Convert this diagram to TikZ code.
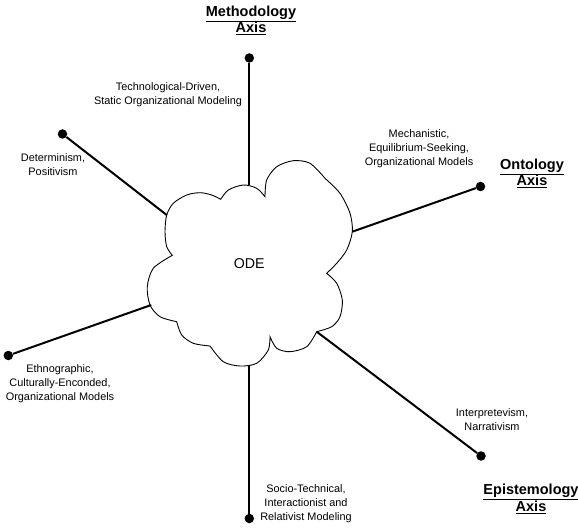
\documentclass[tikz,border=0pt]{standalone}
\usepackage{fontspec}
\setmainfont{Liberation Sans}
\begin{document}
\begin{tikzpicture}[x=1pt,y=-1pt,
  axisline/.style={line width=2pt},
  enddot/.style={circle,fill=black,inner sep=0pt,minimum size=9.5pt},
  pole/.style={font=\fontsize{10.9}{14}\selectfont,align=center,inner sep=0pt},
  axistitle/.style={font=\fontsize{14.5}{16.5}\selectfont\bfseries,align=center,inner sep=0pt},
  cloudline/.style={line width=0.9pt,fill=white}]

\useasboundingbox (0,0) rectangle (578,529);

% the ODE cloud, one smooth bump between each pair of notches
\draw[cloudline]
  plot[smooth] coordinates {(172.3,255.3) (166.7,246.7) (165,231.7) (166.7,215) (173.3,203.3) (186.7,195) (200,192.7) (211.7,195) (220.7,199.3)}
  -- plot[smooth] coordinates {(220.7,199.3) (228.3,190) (243.3,185) (256.7,188.3) (265,196.7)}
  -- plot[smooth] coordinates {(265,196.7) (266.7,180) (276.7,166.7) (293.3,160.7) (310,163.3) (325,178.3)}
  -- plot[smooth] coordinates {(325,178.3) (340,193.3) (350,213.3) (352.3,231.7) (346.7,250) (336.7,263.3) (326.7,273.3)}
  -- plot[smooth] coordinates {(326.7,273.3) (336.7,283.3) (342.3,300) (340,316.7) (331.7,326.7) (316.7,331.7)}
  -- plot[smooth] coordinates {(316.7,331.7) (306.7,346.7) (290,351.7) (276.7,348.3) (270,336.7)}
  -- plot[smooth] coordinates {(270,336.7) (268.3,350) (256.7,363.3) (240,366) (223.3,361.7) (210,346)}
  -- plot[smooth] coordinates {(210,346) (193.3,343.3) (181.7,335) (176.7,321.7)}
  -- plot[smooth] coordinates {(176.7,321.7) (160,316.7) (150,305) (147.3,286.7) (153.3,268.3) (172.3,255.3)}
  -- cycle;
\node[font=\fontsize{14.2}{16}\selectfont,inner sep=0pt] (ode) at (249.3,263.3) {ODE};

% points where the axes leave the cloud
\coordinate (cTop) at (249.3,185.5);
\coordinate (cTopLeft) at (166.7,215);
\coordinate (cRight) at (352.3,231.7);
\coordinate (cLeft) at (151.2,305);
\coordinate (cBottom) at (249.3,365.5);
\coordinate (cBottomRight) at (316.7,331.7);

% axis end points
\node[enddot] (dTop) at (249.3,58) {};
\node[enddot] (dTopLeft) at (62.5,134) {};
\node[enddot] (dRight) at (480.5,186.5) {};
\node[enddot] (dLeft) at (8.3,355.5) {};
\node[enddot] (dBottom) at (249.3,518.5) {};
\node[enddot] (dBottomRight) at (481,456) {};

\draw[axisline] (cTop) -- (dTop);
\draw[axisline] (cTopLeft) -- (dTopLeft);
\draw[axisline] (cRight) -- (dRight);
\draw[axisline] (cLeft) -- (dLeft);
\draw[axisline] (cBottom) -- (dBottom);
\draw[axisline] (cBottomRight) -- (dBottomRight);

% axis titles
\node[axistitle] (tMethod) at (251,20.5) {\underline{Methodology}\\\underline{Axis}};
\node[axistitle] (tOnto) at (532,173.5) {\underline{Ontology}\\\underline{Axis}};
\node[axistitle] (tEpist) at (531,499) {\underline{Epistemology}\\\underline{Axis}};

% pole labels
\node[pole] (lTop) at (168,94.5) {Technological-Driven,\\Static Organizational Modeling};
\node[pole] (lTopLeft) at (53,164.5) {Determinism,\\Positivism};
\node[pole] (lRight) at (419,149) {Mechanistic,\\Equilibrium-Seeking,\\Organizational Models};
\node[pole] (lLeft) at (60,383.5) {Ethnographic,\\Culturally-Enconded,\\Organizational Models};
\node[pole] (lBottom) at (306,503.5) {Socio-Technical,\\Interactionist and\\Relativist Modeling};
\node[pole] (lBottomRight) at (492,419.5) {Interpretevism,\\Narrativism};

\end{tikzpicture}
\end{document}
